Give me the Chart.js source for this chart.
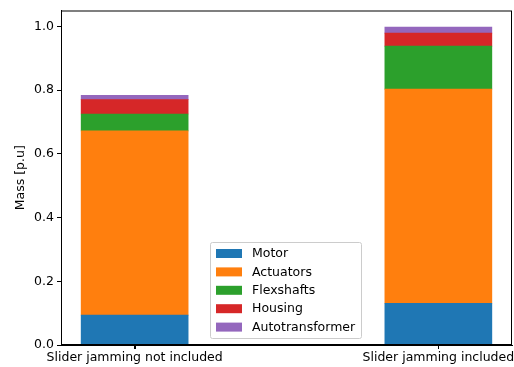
<!DOCTYPE html>
<html lang="en">
<head>
    <meta charset="UTF-8">
    <title>Mass breakdown</title>
    <style>
        body { margin: 0; padding: 0; background: #fff; }
        canvas { display: block; }
    </style>
</head>
<body>
    <canvas id="massChart" width="514" height="367"></canvas>

    <script src="https://cdn.jsdelivr.net/npm/chart.js"></script>
    <script>
        // data
        const categories = ['Slider jamming not included', 'Slider jamming included'];
        const components = ['Motor', 'Actuators', 'Flexshafts', 'Housing', 'Autotransformer'];
        const motor = [0.094, 0.131];
        const actuators = [0.578, 0.672];
        const flexshafts = [0.053, 0.135];
        const housing = [0.045, 0.041];
        const autotransformer = [0.014, 0.019];
        const yTicks = [0.0, 0.2, 0.4, 0.6, 0.8, 1.0];

        const colors = ['#1f77b4', '#ff7f0e', '#2ca02c', '#d62728', '#9467bd'];
        const series = [motor, actuators, flexshafts, housing, autotransformer];
        const font = 'DejaVu Sans';
        const fontSize = 12.5;

        const datasets = series.map((vals, i) => ({
            label: components[i],
            data: vals.map((v, j) => ({ x: j, y: v })),
            backgroundColor: colors[i],
            borderWidth: 0,
            barThickness: 107
        }));

        // matplotlib style box, x tick marks + legend in the plot
        const boxPlugin = {
            id: 'box',
            afterDraw(chart) {
                const ctx = chart.ctx;
                const a = chart.chartArea;
                ctx.save();
                ctx.strokeStyle = '#000';
                ctx.lineWidth = 1;
                ctx.strokeRect(a.left + 0.5, a.top + 0.5, a.right - a.left - 1, a.bottom - a.top - 1);

                // tick marks under the bars
                const xs = chart.scales.x;
                categories.forEach((c, j) => {
                    const px = Math.round(xs.getPixelForValue(j)) + 0.5;
                    ctx.beginPath();
                    ctx.moveTo(px, a.bottom - 1);
                    ctx.lineTo(px, a.bottom + 4);
                    ctx.stroke();
                });

                // legend
                const lx = 210, ly = 242, lw = 151, lh = 96;
                ctx.fillStyle = 'rgba(255,255,255,0.8)';
                ctx.strokeStyle = '#cccccc';
                ctx.beginPath();
                ctx.roundRect(lx + 0.5, ly + 0.5, lw, lh, 2);
                ctx.fill();
                ctx.stroke();
                ctx.font = fontSize + 'px ' + font;
                ctx.textBaseline = 'middle';
                components.forEach((name, i) => {
                    const y = ly + 11 + i * 18.4;
                    ctx.fillStyle = colors[i];
                    ctx.fillRect(lx + 6, y - 4, 26, 9);
                    ctx.fillStyle = '#000';
                    ctx.fillText(name, lx + 42, y + 1);
                });
                ctx.restore();
            }
        };

        new Chart(document.getElementById('massChart'), {
            type: 'bar',
            data: { datasets: datasets },
            plugins: [boxPlugin],
            options: {
                responsive: false,
                animation: false,
                layout: { padding: { top: 10, right: 2, left: 0, bottom: 0 } },
                plugins: {
                    legend: { display: false },
                    tooltip: { enabled: false }
                },
                scales: {
                    x: {
                        type: 'linear',
                        stacked: true,
                        offset: false,
                        min: -0.2425,
                        max: 1.2425,
                        afterBuildTicks: s => { s.ticks = [{ value: 0 }, { value: 1 }]; },
                        afterFit: s => { s.height = 22; s.paddingLeft = 0; s.paddingRight = 0; },
                        ticks: {
                            callback: v => categories[v],
                            color: '#000',
                            font: { family: font, size: fontSize },
                            maxRotation: 0,
                            autoSkip: false,
                            padding: 1
                        },
                        grid: { drawOnChartArea: false, offset: false, tickLength: 4, color: '#000' },
                        border: { color: '#000' }
                    },
                    y: {
                        stacked: true,
                        min: 0,
                        max: 1.05,
                        afterBuildTicks: s => { s.ticks = yTicks.map(v => ({ value: v })); },
                        afterFit: s => { s.width = 61; },
                        ticks: {
                            callback: v => v.toFixed(1),
                            color: '#000',
                            font: { family: font, size: fontSize },
                            padding: 3
                        },
                        grid: { drawOnChartArea: false, tickLength: 4, color: '#000' },
                        border: { color: '#000' },
                        title: {
                            display: true,
                            text: 'Mass [p.u]',
                            color: '#000',
                            font: { family: font, size: fontSize },
                            padding: { top: 13, bottom: 0 }
                        }
                    }
                }
            }
        });
    </script>
</body>
</html>
